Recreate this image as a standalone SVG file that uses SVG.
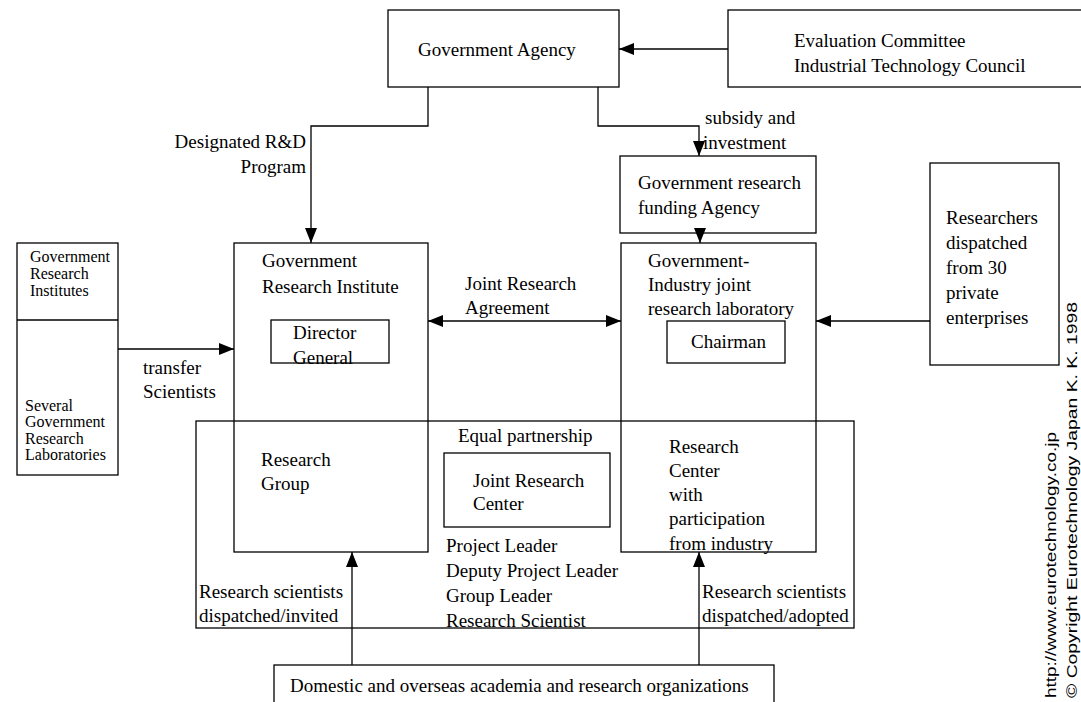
<svg xmlns="http://www.w3.org/2000/svg" width="1081" height="702" viewBox="0 0 1081 702">
<style>
  .box { fill: none; stroke: #000; stroke-width: 1.3; }
  .ln { fill: none; stroke: #000; stroke-width: 1.3; }
  .t { font-family: "Liberation Serif", "Times New Roman", serif; font-size: 19px; fill: #000; }
  .s { font-family: "Liberation Serif", "Times New Roman", serif; font-size: 16px; fill: #000; }
  .v { font-family: "Liberation Sans", Arial, sans-serif; font-size: 15px; fill: #000; }
</style>
<defs>
  <marker id="ah" markerUnits="userSpaceOnUse" markerWidth="16" markerHeight="12" refX="15" refY="6" orient="auto-start-reverse">
    <path d="M0,0 L15,6 L0,12 z" fill="#000"/>
  </marker>
</defs>
<rect width="1081" height="702" fill="#fff"/>

<g id="gov-agency">
  <rect class="box" x="388" y="10" width="231" height="77"/>
  <text class="t" x="497" y="56" text-anchor="middle">Government Agency</text>
</g>

<g id="evaluation-committee">
  <rect class="box" x="728" y="10" width="370" height="77"/>
  <text class="t" x="794" y="47">Evaluation Committee</text>
  <text class="t" x="794" y="72">Industrial Technology Council</text>
</g>

<g id="funding-agency">
  <rect class="box" x="620" y="156" width="196" height="77"/>
  <text class="t" x="638" y="189">Government research</text>
  <text class="t" x="638" y="214">funding Agency</text>
</g>

<g id="gov-research-institutes">
  <rect class="box" x="17" y="243" width="101" height="232"/>
  <line class="ln" x1="17" y1="320" x2="118" y2="320"/>
  <text class="s" x="30" y="262">Government</text>
  <text class="s" x="30" y="279">Research</text>
  <text class="s" x="30" y="296">Institutes</text>
  <text class="s" x="25" y="411">Several</text>
  <text class="s" x="25" y="427">Government</text>
  <text class="s" x="25" y="444">Research</text>
  <text class="s" x="25" y="460">Laboratories</text>
</g>

<g id="gov-research-institute">
  <rect class="box" x="234" y="243" width="194" height="309"/>
  <text class="t" x="262" y="267">Government</text>
  <text class="t" x="262" y="293">Research Institute</text>
  <text class="t" x="261" y="466">Research</text>
  <text class="t" x="261" y="490">Group</text>
</g>

<g id="director-general">
  <rect class="box" x="271" y="320" width="118" height="43"/>
  <text class="t" x="293" y="339">Director</text>
  <text class="t" x="293" y="364">General</text>
</g>

<g id="gij-lab">
  <rect class="box" x="621" y="243" width="195" height="309"/>
  <text class="t" x="648" y="267">Government-</text>
  <text class="t" x="648" y="291">Industry joint</text>
  <text class="t" x="648" y="315">research laboratory</text>
  <text class="t" x="669" y="453">Research</text>
  <text class="t" x="669" y="477">Center</text>
  <text class="t" x="669" y="501">with</text>
  <text class="t" x="669" y="525">participation</text>
  <text class="t" x="669" y="550">from industry</text>
</g>

<g id="chairman">
  <rect class="box" x="667" y="321" width="118" height="42"/>
  <text class="t" x="691" y="348">Chairman</text>
</g>

<g id="researchers-private">
  <rect class="box" x="930" y="163" width="129" height="202"/>
  <text class="t" x="946" y="224">Researchers</text>
  <text class="t" x="946" y="249">dispatched</text>
  <text class="t" x="946" y="274">from 30</text>
  <text class="t" x="946" y="299">private</text>
  <text class="t" x="946" y="324">enterprises</text>
</g>

<g id="equal-partnership">
  <rect class="box" x="196" y="421" width="658" height="207"/>
  <text class="t" x="458" y="442">Equal partnership</text>
  <text class="t" x="446" y="552">Project Leader</text>
  <text class="t" x="446" y="577">Deputy Project Leader</text>
  <text class="t" x="446" y="602">Group Leader</text>
  <text class="t" x="446" y="627">Research Scientist</text>
</g>

<g id="joint-research-center">
  <rect class="box" x="444" y="453" width="166" height="74"/>
  <text class="t" x="473" y="487">Joint Research</text>
  <text class="t" x="473" y="510">Center</text>
</g>

<g id="academia">
  <rect class="box" x="274" y="665" width="500" height="60"/>
  <text class="t" x="290" y="692">Domestic and overseas academia and research organizations</text>
</g>

<g id="connectors">
  <line class="ln" x1="728" y1="49" x2="619" y2="49" marker-end="url(#ah)"/>
  <polyline class="ln" points="428,87 428,126 311,126 311,243" marker-end="url(#ah)"/>
  <polyline class="ln" points="598,87 598,126 699,126 699,156" marker-end="url(#ah)"/>
  <line class="ln" x1="700" y1="233" x2="700" y2="243" marker-end="url(#ah)"/>
  <line class="ln" x1="118" y1="349" x2="234" y2="349" marker-end="url(#ah)"/>
  <line class="ln" x1="428" y1="321" x2="621" y2="321" marker-start="url(#ah)" marker-end="url(#ah)"/>
  <line class="ln" x1="930" y1="321" x2="816" y2="321" marker-end="url(#ah)"/>
  <line class="ln" x1="352" y1="665" x2="352" y2="552" marker-end="url(#ah)"/>
  <line class="ln" x1="699" y1="665" x2="699" y2="552" marker-end="url(#ah)"/>
  <text class="t" x="306" y="148" text-anchor="end">Designated R&amp;D</text>
  <text class="t" x="306" y="173" text-anchor="end">Program</text>
  <text class="t" x="705" y="124">subsidy and</text>
  <text class="t" x="703" y="149">investment</text>
  <text class="t" x="465" y="290">Joint Research</text>
  <text class="t" x="465" y="314">Agreement</text>
  <text class="t" x="143" y="374">transfer</text>
  <text class="t" x="143" y="398">Scientists</text>
  <text class="t" x="199" y="598">Research scientists</text>
  <text class="t" x="199" y="622">dispatched/invited</text>
  <text class="t" x="702" y="598">Research scientists</text>
  <text class="t" x="702" y="622">dispatched/adopted</text>
</g>

<g id="copyright">
  <text class="v" transform="translate(1056,698) rotate(-90)" textLength="266" lengthAdjust="spacingAndGlyphs">http://www.eurotechnology.co.jp</text>
  <text class="v" transform="translate(1077,698) rotate(-90)" textLength="396" lengthAdjust="spacingAndGlyphs">© Copyright Eurotechnology Japan K. K. 1998</text>
</g>
</svg>
